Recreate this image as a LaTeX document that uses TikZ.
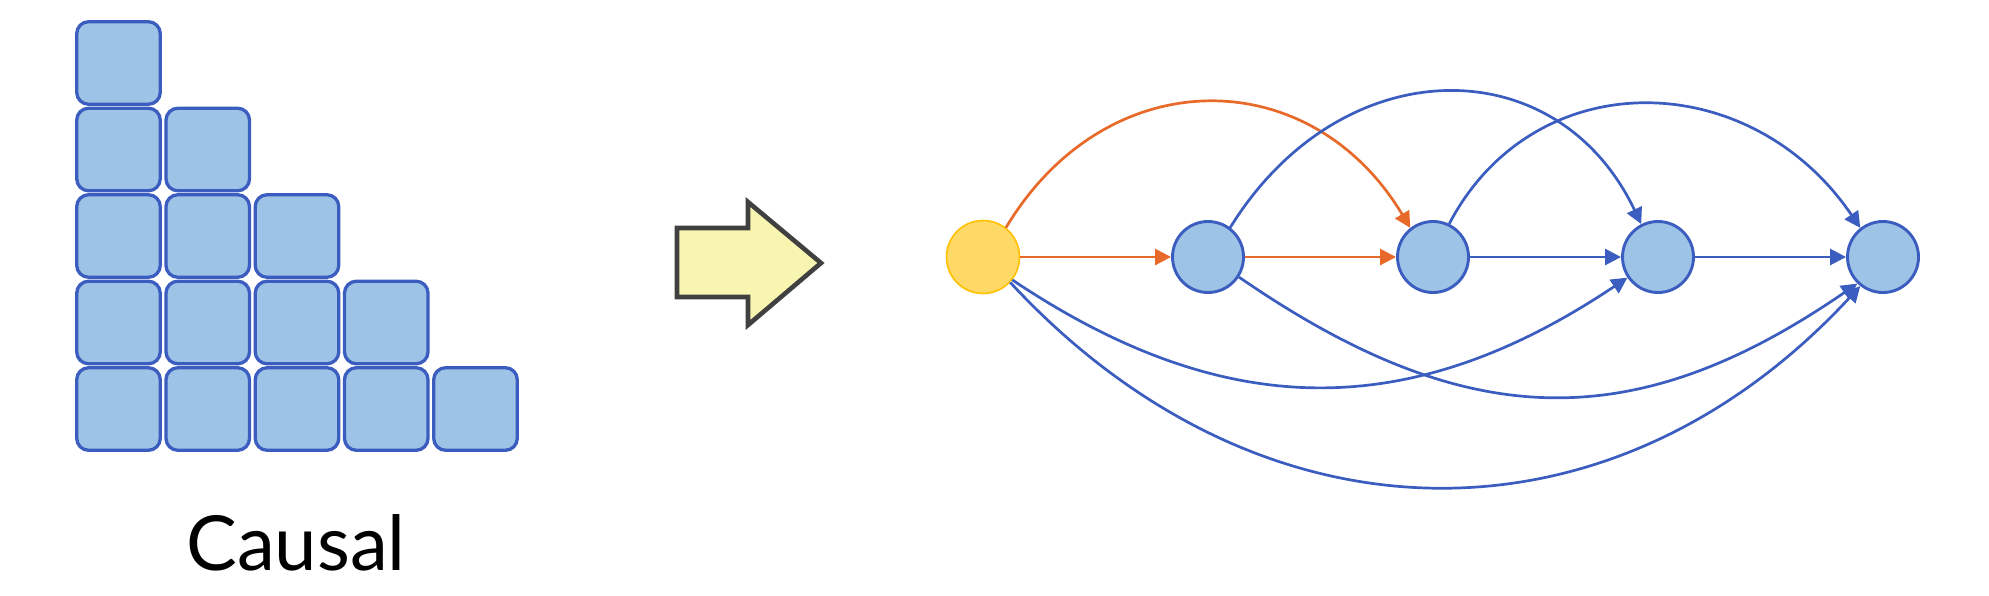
\documentclass[tikz,border=0pt]{standalone}
\usepackage{fontspec}
\setmainfont{Lato}
\usetikzlibrary{arrows.meta}

\definecolor{cellfill}{HTML}{9DC3E6}
\definecolor{lineblue}{HTML}{3A5DBF}
\definecolor{hotorange}{HTML}{E86A2A}
\definecolor{startfill}{HTML}{FFD966}
\definecolor{startring}{HTML}{FFC000}
\definecolor{arrowfill}{HTML}{F8F5B0}
\definecolor{arrowgray}{HTML}{404040}

\begin{document}
\begin{tikzpicture}[x=0.5pt, y=-0.5pt,
  cellbox/.style={draw=lineblue, fill=cellfill, line width=1.65pt,
                  rounded corners=6pt, minimum width=41.8pt,
                  minimum height=41.3pt, inner sep=0pt},
  token/.style={circle, draw=lineblue, fill=cellfill, line width=1.45pt,
                minimum size=35.5pt, inner sep=0pt},
  first/.style={token, draw=startring, fill=startfill, line width=0.8pt,
                minimum size=36.5pt},
  link/.style={line width=1.35pt, draw=lineblue,
               -{Triangle[length=8pt,width=8pt]}},
  hot/.style={link, draw=hotorange}]
  \useasboundingbox (0,0) rectangle (1989,595);

  % The lower triangular mask, one row longer each time
  \foreach \r in {0,...,4}
    \foreach \c in {0,...,\r}
      \node[cellbox] (cell\r\c) at ({118.5+89.25*\c}, {63+86.5*\r}) {};

  \node[anchor=base, font=\fontsize{38}{38}\selectfont] (caption)
    at (296,570) {Causal};

  % The block arrow between the two halves
  \draw[line width=2.3pt, draw=arrowgray, fill=arrowfill, line join=miter]
    (677,228) -- (748,228) -- (748,202) -- (821,263) -- (748,325)
    -- (748,297) -- (677,297) -- cycle;

  % The tokens in a row
  \node[first] (t1) at (983,257) {};
  \foreach \i in {2,...,5}
    \node[token] (t\i) at ({983+225*(\i-1)},257) {};

  % Links to the next token
  \draw[hot] (t1) -- (t2);
  \draw[hot] (t2) -- (t3);
  \draw[link] (t3) -- (t4);
  \draw[link] (t4) -- (t5);

  % Skips over one token, above the row
  \draw[hot] (t1.52) .. controls +(100,-167) and +(-100,-167) .. (t3.128);
  \draw[link] (t2.53) .. controls +(110,-178) and +(-85,-178) .. (t4.117);
  \draw[link] (t3.64) .. controls +(85,-162) and +(-110,-162) .. (t5.128);

  % Longer skips, below the row
  \draw[link] (t1.-38) .. controls +(215,144) and +(-215,144) .. (t4.-146);
  \draw[link] (t2.-33) .. controls +(225,155) and +(-225,155) .. (t5.-134);
  \draw[link] (t1.-43) .. controls +(250,270) and +(-250,270) .. (t5.-128);
\end{tikzpicture}
\end{document}
